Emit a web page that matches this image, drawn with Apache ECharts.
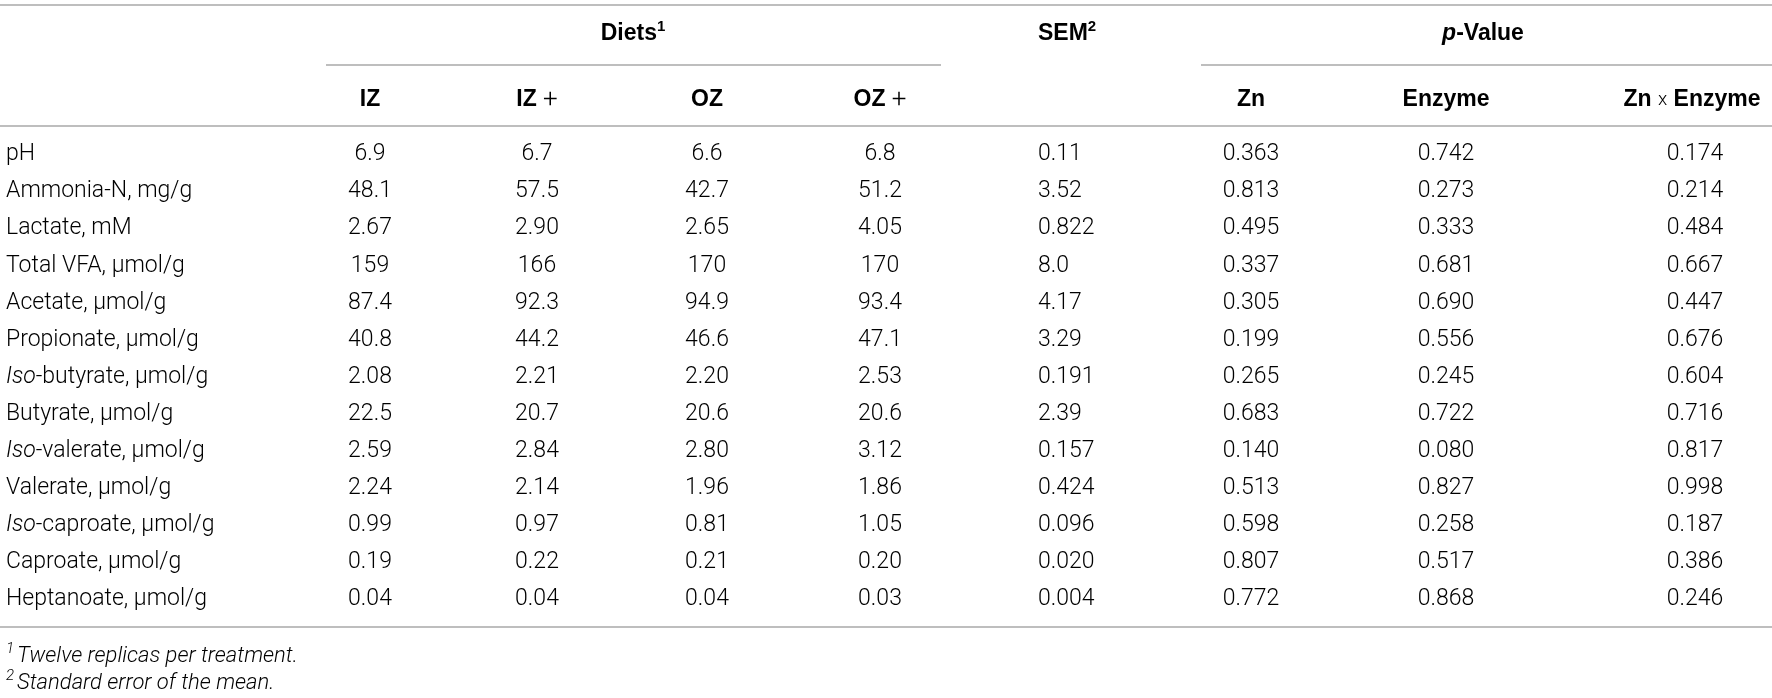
<!DOCTYPE html>
<html lang="en">
<head>
<meta charset="utf-8">
<script src="https://cdn.jsdelivr.net/npm/echarts@6/dist/echarts.min.js"></script>
<style>
    html, body { margin: 0; background: #fff; }
    #main { width: 1772px; height: 698px; }
</style>
</head>
<body>
<div id="main"></div>
<script>
    // table content
    var rowLabels = ['pH', 'Ammonia-N, mg/g', 'Lactate, mM', 'Total VFA, μmol/g', 'Acetate, μmol/g',
        'Propionate, μmol/g', 'Iso-butyrate, μmol/g', 'Butyrate, μmol/g', 'Iso-valerate, μmol/g',
        'Valerate, μmol/g', 'Iso-caproate, μmol/g', 'Caproate, μmol/g', 'Heptanoate, μmol/g'];
    var iz = ['6.9', '48.1', '2.67', '159', '87.4', '40.8', '2.08', '22.5', '2.59', '2.24', '0.99', '0.19', '0.04'];
    var izPlus = ['6.7', '57.5', '2.90', '166', '92.3', '44.2', '2.21', '20.7', '2.84', '2.14', '0.97', '0.22', '0.04'];
    var oz = ['6.6', '42.7', '2.65', '170', '94.9', '46.6', '2.20', '20.6', '2.80', '1.96', '0.81', '0.21', '0.04'];
    var ozPlus = ['6.8', '51.2', '4.05', '170', '93.4', '47.1', '2.53', '20.6', '3.12', '1.86', '1.05', '0.20', '0.03'];
    var sem = ['0.11', '3.52', '0.822', '8.0', '4.17', '3.29', '0.191', '2.39', '0.157', '0.424', '0.096', '0.020', '0.004'];
    var pZn = ['0.363', '0.813', '0.495', '0.337', '0.305', '0.199', '0.265', '0.683', '0.140', '0.513', '0.598', '0.807', '0.772'];
    var pEnzyme = ['0.742', '0.273', '0.333', '0.681', '0.690', '0.556', '0.245', '0.722', '0.080', '0.827', '0.258', '0.517', '0.868'];
    var pZnEnzyme = ['0.174', '0.214', '0.484', '0.667', '0.447', '0.676', '0.604', '0.716', '0.817', '0.998', '0.187', '0.386', '0.246'];
    var footnotes = ['Twelve replicas per treatment.', 'Standard error of the mean.'];

    var columns = [rowLabels, iz, izPlus, oz, ozPlus, sem, pZn, pEnzyme, pZnEnzyme];

    // layout: x anchor of each column and how text sits on it
    var colX = [6, 370, 537, 707, 880, 1038, 1251, 1446, 1695];
    var colAlign = ['left', 'center', 'center', 'center', 'center', 'left', 'center', 'center', 'center'];

    var INK = '#1f1f1f';
    var RULE = '#a8a8a8';
    var LIGHT = 'Roboto, "Liberation Sans", sans-serif';
    var BOLD = '"Liberation Sans", Arial, sans-serif';
    var FS = 23;

    var rich = {
        n: { fontFamily: LIGHT, fontWeight: 300, fontSize: FS, color: INK },
        i: { fontFamily: LIGHT, fontWeight: 300, fontStyle: 'italic', fontSize: FS, color: INK },
        b: { fontFamily: BOLD, fontWeight: 'bold', fontSize: FS, color: INK, lineHeight: 30 },
        bi: { fontFamily: BOLD, fontWeight: 'bold', fontStyle: 'italic', fontSize: FS, color: INK, lineHeight: 30 },
        op: { fontFamily: LIGHT, fontWeight: 300, fontSize: FS + 3, color: INK },
        x: { fontFamily: LIGHT, fontWeight: 300, fontSize: FS - 4, color: INK },
        sup: { fontFamily: BOLD, fontWeight: 'bold', fontSize: 15, color: INK, verticalAlign: 'top', lineHeight: 30 },
        fsup: { fontFamily: LIGHT, fontWeight: 300, fontStyle: 'italic', fontSize: 15, color: INK, verticalAlign: 'top', lineHeight: 28, padding: [0, 3, 0, 0] },
        fi: { fontFamily: LIGHT, fontWeight: 300, fontStyle: 'italic', fontSize: 22, color: INK, lineHeight: 28 }
    };

    var cells = [];
    for (var c = 0; c < columns.length; c++) {
        for (var r = 0; r < rowLabels.length; r++) {
            cells.push([c, r]);
        }
    }

    function hline(x1, x2, y) {
        return {
            type: 'line', silent: true,
            shape: { x1: x1, y1: y, x2: x2, y2: y },
            style: { stroke: RULE, lineWidth: 1.6 }
        };
    }

    function label(x, y, text, align) {
        return {
            type: 'text', silent: true, x: x, y: y,
            style: { text: text, rich: rich, align: align || 'center', verticalAlign: 'middle' }
        };
    }

    var chart = echarts.init(document.getElementById('main'), null, { renderer: 'canvas' });

    chart.setOption({
        animation: false,
        backgroundColor: '#fff',
        grid: { left: 0, right: 0, top: 136, bottom: 80 },
        xAxis: { type: 'value', min: 0, max: 1772, show: false },
        yAxis: { type: 'category', data: rowLabels, inverse: true, show: false },
        graphic: [
            hline(0, 1772, 5),
            label(633, 34, '{b|Diets}{sup|1}'),
            hline(326, 941, 65),
            label(1038, 34, '{b|SEM}{sup|2}', 'left'),
            label(1483, 34, '{bi|p}{b|-Value}'),
            hline(1201, 1772, 65),
            label(370, 100, '{b|IZ}'),
            label(537, 100, '{b|IZ }{op|+}'),
            label(707, 100, '{b|OZ}'),
            label(880, 100, '{b|OZ }{op|+}'),
            label(1251, 100, '{b|Zn}'),
            label(1446, 100, '{b|Enzyme}'),
            label(1692, 100, '{b|Zn }{x|x}{b| Enzyme}'),
            hline(0, 1772, 126),
            hline(0, 1772, 627),
            label(6, 656, '{fsup|1}{fi|' + footnotes[0] + '}', 'left'),
            label(6, 683, '{fsup|2}{fi|' + footnotes[1] + '}', 'left')
        ],
        series: [{
            type: 'custom',
            silent: true,
            clip: false,
            data: cells,
            renderItem: function (params, api) {
                var c = api.value(0);
                var r = api.value(1);
                var pt = api.coord([colX[c], r]);
                var txt = columns[c][r];
                if (c === 0 && txt.indexOf('Iso') === 0) {
                    txt = '{i|Iso}{n|' + txt.slice(3) + '}';
                } else {
                    txt = '{n|' + txt + '}';
                }
                return {
                    type: 'text',
                    x: pt[0],
                    y: pt[1],
                    style: { text: txt, rich: rich, align: colAlign[c], verticalAlign: 'middle' }
                };
            }
        }]
    });
</script>
</body>
</html>
